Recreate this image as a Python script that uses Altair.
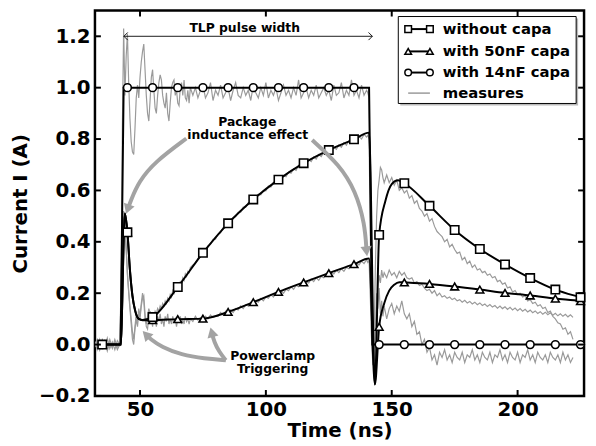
import altair as alt
import pandas as pd

# ---------------- axes ----------------
X_DOMAIN = [32.1, 226.4]
Y_DOMAIN = [-0.2, 1.3]
X_TICKS = [50, 100, 150, 200]
Y_TICKS = [-0.2, 0.0, 0.2, 0.4, 0.6, 0.8, 1.0, 1.2]

# ---------------- simulation curves (black) ----------------
sim_nocap_t = [35, 42.3, 44, 45, 46, 47, 48, 49.5, 51, 55, 65, 75, 85, 95, 105, 115, 125, 135, 141,
               143.3, 145, 147.5, 150, 152.5, 155, 165, 175, 185, 195, 205, 215, 225, 226.4]
sim_nocap_v = [0, 0, 0.51, 0.437, 0.29, 0.19, 0.135, 0.1, 0.096, 0.107, 0.224, 0.357, 0.472, 0.565,
               0.642, 0.706, 0.757, 0.799, 0.825, -0.155, 0.427, 0.56, 0.625, 0.64, 0.628, 0.54, 0.446,
               0.372, 0.312, 0.259, 0.214, 0.184, 0.18]

sim_50_t = [35, 42.3, 44, 45, 46, 47, 48, 49.5, 51, 55, 65, 75, 85, 95, 105, 115, 125, 135, 141,
            143.3, 145, 147, 149, 151, 153, 155, 165, 175, 185, 195, 205, 215, 225, 226.4]
sim_50_v = [0, 0, 0.51, 0.437, 0.29, 0.19, 0.135, 0.1, 0.095, 0.095, 0.099, 0.101, 0.127, 0.165,
            0.205, 0.242, 0.278, 0.313, 0.335, -0.155, 0.069, 0.16, 0.21, 0.233, 0.243, 0.242, 0.236,
            0.226, 0.214, 0.201, 0.191, 0.179, 0.169, 0.167]

sim_14_t = [35, 42.3, 43.5, 45, 55, 65, 75, 85, 95, 105, 115, 125, 135, 141, 142.3, 145, 155, 165,
            175, 185, 195, 205, 215, 225, 226.4]
sim_14_v = [0, 0, 1.0, 1.0, 1.0, 1.0, 1.0, 1.0, 1.0, 1.0, 1.0, 1.0, 1.0, 1.0, 0.0, 0.0, 0.0, 0.0,
            0.0, 0.0, 0.0, 0.0, 0.0, 0.0, 0.0]

# marker positions (every 10 ns)
marker_t = [35, 45, 55, 65, 75, 85, 95, 105, 115, 125, 135, 145, 155, 165, 175, 185, 195, 205, 215, 225]
mk_nocap = [0, 0.437, 0.107, 0.224, 0.357, 0.472, 0.565, 0.642, 0.706, 0.757, 0.799,
            0.427, 0.628, 0.54, 0.446, 0.372, 0.312, 0.259, 0.214, 0.184]
mk_50 = [0, 0.437, 0.095, 0.099, 0.101, 0.127, 0.165, 0.205, 0.242, 0.278, 0.313,
         0.069, 0.242, 0.236, 0.226, 0.214, 0.201, 0.191, 0.179, 0.169]
mk_14 = [0, 1.0, 1.0, 1.0, 1.0, 1.0, 1.0, 1.0, 1.0, 1.0, 1.0,
         0, 0, 0, 0, 0, 0, 0, 0, 0]

# ---------------- measures (grey), sampled on a common time grid ----------------
t_g1 = [32, 33, 34, 35, 36, 37, 38, 39, 40, 41]
t_g2 = [42 + 0.5 * i for i in range(57)]          # 42 .. 70
t_g3 = list(range(71, 141))                      # 71 .. 140
t_g4 = [140.5 + 0.5 * i for i in range(14)]       # 140.5 .. 147
t_g5 = list(range(148, 223))                     # 148 .. 222

m14_g1 = [0.01, -0.02, 0.02, -0.01, 0.015, -0.025, 0.01, -0.015, 0.02, -0.01]
m14_g2 = [0.0, 0.15, 0.85, 1.23, 0.97, 1.12, 1.21, 1.02, 0.88, 0.79,
          0.75, 0.74, 0.84, 0.96, 1.01, 0.96, 1.04, 1.1, 1.14, 1.17,
          1.07, 0.97, 0.9, 0.87, 0.95, 1.04, 1.07, 0.99, 0.92, 0.9,
          0.97, 1.02, 1.05, 1.03, 0.97, 0.94, 0.92, 0.98, 0.9, 0.87,
          0.94, 1.0, 1.02, 1.03, 0.97, 0.99, 0.94, 0.93, 1.0, 1.02,
          0.97, 1.03, 0.96, 0.95, 0.99, 0.94, 1.0]
m14_g3 = [0.97, 1.0, 0.96, 0.99, 1.01, 0.96, 0.98, 1.02, 0.95, 0.99,
          0.97, 1.01, 0.96, 0.98, 1.0, 0.95, 0.99, 1.02, 0.97, 0.96,
          1.0, 0.97, 0.99, 0.95, 1.01, 0.98, 0.96, 1.0, 0.97, 1.02,
          0.96, 0.99, 0.97, 1.0, 0.95, 0.98, 1.01, 0.97, 0.99, 0.96,
          1.0, 0.97, 1.03, 0.96, 0.98, 1.0, 0.96, 0.99, 0.97, 1.01,
          0.96, 0.98, 1.0, 0.97, 0.99, 0.95, 1.01, 0.97, 0.98, 1.02,
          0.96, 0.99, 0.97, 1.03, 0.97, 0.99, 0.96, 1.01, 0.97, 0.99]
m14_g4 = [0.98, 0.96, 0.55, 0.12, -0.02, -0.08, 0.04, 0.2, 0.14, 0.22, 0.12, 0.17, 0.11, 0.15]
m14_g5 = [0.1, 0.14, 0.16, 0.12, 0.15, 0.13, 0.17, 0.12, 0.1, 0.12,
          0.07, 0.09, 0.04, 0.05, 0.0, 0.02, -0.03, -0.01, -0.06, -0.04,
          -0.08, -0.03, -0.05, -0.02, -0.06, -0.04, -0.07, -0.03, -0.05, -0.06,
          -0.03, -0.07, -0.04, -0.05, -0.02, -0.06, -0.04, -0.07, -0.03, -0.05,
          -0.06, -0.03, -0.07, -0.04, -0.05, -0.02, -0.06, -0.04, -0.07, -0.03,
          -0.05, -0.06, -0.03, -0.07, -0.04, -0.05, -0.02, -0.06, -0.04, -0.07,
          -0.03, -0.05, -0.06, -0.04, -0.07, -0.03, -0.05, -0.06, -0.04, -0.07,
          -0.03, -0.06, -0.04, -0.07, -0.05]

m50_g1 = [0.0, 0.02, -0.02, 0.01, -0.01, 0.025, -0.015, 0.01, -0.02, 0.015]
m50_g2 = [0.0, 0.22, 0.46, 0.5, 0.47, 0.38, 0.28, 0.2, 0.14, 0.08,
          0.02, 0.0, 0.06, 0.1, 0.07, 0.12, 0.1, 0.15, 0.18, 0.19,
          0.12, 0.07, 0.06, 0.11, 0.13, 0.1, 0.07, 0.12, 0.1, 0.07,
          0.11, 0.09, 0.12, 0.08, 0.1, 0.07, 0.11, 0.09, 0.12, 0.08,
          0.1, 0.08, 0.11, 0.09, 0.1, 0.07, 0.1, 0.09, 0.11, 0.08,
          0.1, 0.08, 0.11, 0.09, 0.1, 0.08, 0.1]
m50_g3 = [0.09, 0.11, 0.095, 0.105, 0.09, 0.11, 0.1, 0.115, 0.105, 0.11,
          0.11, 0.125, 0.115, 0.13, 0.12, 0.135, 0.125, 0.14, 0.135, 0.15,
          0.14, 0.155, 0.15, 0.165, 0.155, 0.17, 0.165, 0.18, 0.17, 0.185,
          0.18, 0.195, 0.185, 0.2, 0.195, 0.21, 0.2, 0.215, 0.21, 0.225,
          0.215, 0.23, 0.225, 0.24, 0.23, 0.245, 0.24, 0.255, 0.245, 0.26,
          0.25, 0.265, 0.26, 0.275, 0.265, 0.28, 0.275, 0.29, 0.28, 0.295,
          0.285, 0.3, 0.295, 0.31, 0.3, 0.315, 0.31, 0.325, 0.315, 0.33]
m50_g4 = [0.32, 0.33, 0.18, 0.02, -0.06, -0.03, 0.06, 0.15, 0.22, 0.27, 0.24, 0.29, 0.26, 0.28]
m50_g5 = [0.26, 0.29, 0.27, 0.28, 0.26, 0.285, 0.27, 0.28, 0.26, 0.255,
          0.26, 0.24, 0.245, 0.23, 0.235, 0.22, 0.21, 0.215, 0.2, 0.21,
          0.19, 0.2, 0.185, 0.19, 0.18, 0.185, 0.175, 0.18, 0.17, 0.175,
          0.165, 0.172, 0.162, 0.168, 0.158, 0.165, 0.155, 0.162, 0.152, 0.158,
          0.148, 0.156, 0.146, 0.152, 0.142, 0.15, 0.14, 0.147, 0.137, 0.145,
          0.135, 0.142, 0.132, 0.14, 0.13, 0.137, 0.127, 0.134, 0.124, 0.131,
          0.121, 0.128, 0.118, 0.126, 0.116, 0.124, 0.114, 0.122, 0.112, 0.12,
          0.11, 0.118, 0.108, 0.116, 0.106]

m0_g1 = [-0.01, 0.015, -0.02, 0.02, 0.0, -0.015, 0.02, -0.01, 0.01, -0.02]
m0_g2 = [0.0, 0.26, 0.48, 0.52, 0.46, 0.37, 0.27, 0.21, 0.15, 0.1,
         0.05, 0.02, 0.07, 0.12, 0.09, 0.14, 0.11, 0.16, 0.2, 0.17,
         0.1, 0.08, 0.11, 0.14, 0.12, 0.1, 0.12, 0.11, 0.13, 0.12,
         0.14, 0.13, 0.15, 0.14, 0.16, 0.15, 0.17, 0.16, 0.18, 0.17,
         0.195, 0.185, 0.21, 0.2, 0.22, 0.21, 0.235, 0.225, 0.245, 0.24,
         0.26, 0.25, 0.275, 0.265, 0.285, 0.28, 0.3]
m0_g3 = [0.31, 0.315, 0.335, 0.34, 0.36, 0.365, 0.385, 0.39, 0.41, 0.41,
         0.43, 0.435, 0.455, 0.455, 0.475, 0.478, 0.495, 0.498, 0.515, 0.515,
         0.535, 0.535, 0.552, 0.55, 0.57, 0.568, 0.585, 0.583, 0.6, 0.598,
         0.617, 0.613, 0.632, 0.628, 0.645, 0.64, 0.658, 0.653, 0.672, 0.667,
         0.684, 0.678, 0.698, 0.69, 0.709, 0.702, 0.72, 0.712, 0.73, 0.722,
         0.74, 0.732, 0.75, 0.742, 0.76, 0.75, 0.769, 0.76, 0.777, 0.768,
         0.786, 0.776, 0.794, 0.785, 0.802, 0.792, 0.811, 0.8, 0.818, 0.808]
m0_g4 = [0.815, 0.8, 0.42, 0.02, -0.08, 0.04, 0.3, 0.5, 0.6, 0.64, 0.69, 0.68, 0.65, 0.63]
m0_g5 = [0.66, 0.63, 0.65, 0.62, 0.64, 0.6, 0.61, 0.59, 0.6, 0.57,
         0.58, 0.55, 0.56, 0.53, 0.52, 0.5, 0.51, 0.48, 0.49, 0.46,
         0.44, 0.43, 0.42, 0.4, 0.41, 0.38, 0.39, 0.37, 0.355, 0.36,
         0.33, 0.34, 0.315, 0.325, 0.3, 0.31, 0.29, 0.295, 0.28, 0.285,
         0.27, 0.275, 0.26, 0.265, 0.245, 0.25, 0.235, 0.24, 0.22, 0.225,
         0.205, 0.21, 0.195, 0.2, 0.185, 0.19, 0.17, 0.175, 0.16, 0.165,
         0.15, 0.155, 0.14, 0.145, 0.125, 0.13, 0.11, 0.1, 0.085, 0.08,
         0.06, 0.065, 0.04, 0.05, 0.02]

# ---------------- annotations (data coordinates) ----------------
ann_text = ["TLP pulse width", "Package", "inductance effect", "Powerclamp", "Triggering"]
ann_t = [91.6, 92.6, 92.8, 102.7, 102.7]
ann_v = [1.234, 0.866, 0.815, -0.045, -0.096]

tlp_arrow_t = [43.6, 142.3]
tlp_arrow_v = [1.2, 1.2]

arrow1_t = [68.4, 56.0, 49.5, 46.2, 45.1]
arrow1_v = [0.802, 0.712, 0.635, 0.557, 0.527]
arrow2_t = [118.4, 129.2, 135.7, 139.3, 140.0]
arrow2_v = [0.796, 0.70, 0.597, 0.47, 0.363]
arrow3_t = [84.1, 75.6, 66.4, 58.6, 54.0, 52.4]
arrow3_v = [-0.061, -0.055, -0.04, -0.01, 0.022, 0.039]
arrow4_t = [84.1, 81.5, 79.5, 78.5]
arrow4_v = [-0.061, -0.029, 0.009, 0.048]
head_t = [45.1, 140.0, 52.4, 78.5]
head_v = [0.527, 0.363, 0.039, 0.048]
head_shape = ["triangle-down", "triangle-down", "triangle-up", "triangle-up"]
head_angle = [19, 354, 316, 345]

legend_labels = ["without capa", "with 50nF capa", "with 14nF capa", "measures"]

# ---------------- helpers ----------------
W, H = 495, 390
FONT = "DejaVu Sans"
GREY = "#9a9a9a"
ARROW_GREY = "#a3a3a3"

x_axis = alt.Axis(values=X_TICKS, ticks=False, domain=False, grid=False, format="d",
                  labelFont=FONT, labelFontWeight="bold", labelFontSize=20, labelColor="black",
                  labelPadding=4, title="Time (ns)", titleFont=FONT, titleFontWeight="bold",
                  titleFontSize=20, titleColor="black", titlePadding=1)
y_axis = alt.Axis(values=Y_TICKS, ticks=False, domain=False, grid=False, format=".1f",
                  labelFont=FONT, labelFontWeight="bold", labelFontSize=20, labelColor="black",
                  labelPadding=5, title="Current I (A)", titleFont=FONT, titleFontWeight="bold",
                  titleFontSize=20, titleColor="black", titlePadding=8)
xs = alt.Scale(domain=X_DOMAIN, nice=False, zero=False)
ys = alt.Scale(domain=Y_DOMAIN, nice=False, zero=False)


def X(f="t"):
    return alt.X(f"{f}:Q", scale=xs, axis=x_axis)


def Y(f="v"):
    return alt.Y(f"{f}:Q", scale=ys, axis=y_axis)


def df(t, v):
    return pd.DataFrame({"t": t, "v": v, "i": list(range(len(t)))})


layers = []

# measures
for g1, g2, g3, g4, g5 in [(m0_g1, m0_g2, m0_g3, m0_g4, m0_g5),
                           (m50_g1, m50_g2, m50_g3, m50_g4, m50_g5),
                           (m14_g1, m14_g2, m14_g3, m14_g4, m14_g5)]:
    tt = t_g1 + t_g2 + t_g3 + t_g4 + t_g5
    vv = g1 + g2 + g3 + g4 + g5
    layers.append(alt.Chart(df(tt, vv)).mark_line(color=GREY, strokeWidth=1.2, clip=True)
                  .encode(x=X(), y=Y(), order="i:Q"))

# simulations
for tt, vv, interp in [(sim_14_t, sim_14_v, "linear"), (sim_50_t, sim_50_v, "monotone"),
                       (sim_nocap_t, sim_nocap_v, "monotone")]:
    layers.append(alt.Chart(df(tt, vv)).mark_line(color="black", strokeWidth=2, interpolate=interp, clip=True)
                  .encode(x=X(), y=Y(), order="i:Q"))

# markers
for vals, shape, sz in [(mk_14, "circle", 62), (mk_50, "triangle-up", 62), (mk_nocap, "square", 72)]:
    layers.append(alt.Chart(df(marker_t, vals)).mark_point(shape=shape, size=sz, filled=True, fill="white",
                                                           stroke="black", strokeWidth=1.6, opacity=1)
                  .encode(x=X(), y=Y()))

# grey curved arrows
for tt, vv in [(arrow1_t, arrow1_v), (arrow2_t, arrow2_v), (arrow3_t, arrow3_v), (arrow4_t, arrow4_v)]:
    layers.append(alt.Chart(df(tt, vv)).mark_line(color=ARROW_GREY, strokeWidth=4, interpolate="basis")
                  .encode(x=X(), y=Y(), order="i:Q"))
heads = pd.DataFrame({"t": head_t, "v": head_v, "shape": head_shape, "angle": head_angle})
for k in range(len(head_t)):
    layers.append(alt.Chart(heads.iloc[[k]]).mark_point(shape=head_shape[k], angle=head_angle[k], size=130,
                                                        filled=True, color=ARROW_GREY, opacity=1)
                  .encode(x=X(), y=Y()))

# TLP pulse width arrow
layers.append(alt.Chart(df(tlp_arrow_t, tlp_arrow_v)).mark_line(color="black", strokeWidth=0.9)
              .encode(x=X(), y=Y()))
layers.append(alt.Chart(df(tlp_arrow_t[:1], tlp_arrow_v[:1])).mark_point(shape="M1,-1L0,0L1,1", size=60,
              filled=False, stroke="black", strokeWidth=0.9, opacity=1).encode(x=X(), y=Y()))
layers.append(alt.Chart(df(tlp_arrow_t[1:], tlp_arrow_v[1:])).mark_point(shape="M-1,-1L0,0L-1,1", size=60,
              filled=False, stroke="black", strokeWidth=0.9, opacity=1).encode(x=X(), y=Y()))

# text annotations
ann = pd.DataFrame({"t": ann_t, "v": ann_v, "txt": ann_text})
layers.append(alt.Chart(ann.iloc[[0]]).mark_text(font=FONT, fontWeight="bold", fontSize=12.5, color="black")
              .encode(x=X(), y=Y(), text="txt:N"))
layers.append(alt.Chart(ann.iloc[1:]).mark_text(font=FONT, fontWeight="bold", fontSize=12.5, color="black")
              .encode(x=X(), y=Y(), text="txt:N"))

# inward ticks on all four sides
xt = pd.DataFrame({"t": X_TICKS})
yt = pd.DataFrame({"v": Y_TICKS})
TL = 6
layers.append(alt.Chart(xt).mark_rule(color="black", strokeWidth=2).encode(x=X(), y=alt.value(H), y2=alt.value(H - TL)))
layers.append(alt.Chart(xt).mark_rule(color="black", strokeWidth=2).encode(x=X(), y=alt.value(0), y2=alt.value(TL)))
layers.append(alt.Chart(yt).mark_rule(color="black", strokeWidth=2).encode(y=Y(), x=alt.value(0), x2=alt.value(TL)))
layers.append(alt.Chart(yt).mark_rule(color="black", strokeWidth=2).encode(y=Y(), x=alt.value(W), x2=alt.value(W - TL)))

# legend (drawn in pixel space of the plot area)
one = pd.DataFrame({"a": [0]})
LX0, LX1, LY0, LY1 = 307, 487, 6, 94
layers.append(alt.Chart(one).mark_rect(color="#8c8c8c", opacity=0.6)
              .encode(x=alt.value(LX0 + 2), x2=alt.value(LX1 + 2), y=alt.value(LY0 + 2), y2=alt.value(LY1 + 2)))
layers.append(alt.Chart(one).mark_rect(fill="white", stroke="black", strokeWidth=1)
              .encode(x=alt.value(LX0), x2=alt.value(LX1), y=alt.value(LY0), y2=alt.value(LY1)))
row_y = [18.7, 41.3, 62.7, 83.5]
row_shape = ["square", "triangle-up", "circle", None]
for k, lab in enumerate(legend_labels):
    yy = row_y[k]
    col = "black" if row_shape[k] else GREY
    layers.append(alt.Chart(one).mark_rule(color=col, strokeWidth=2 if row_shape[k] else 1.5)
                  .encode(x=alt.value(317), x2=alt.value(339), y=alt.value(yy)))
    if row_shape[k]:
        for xx in (317, 339):
            layers.append(alt.Chart(one).mark_point(shape=row_shape[k], size=45, filled=True, fill="white",
                                                    stroke="black", strokeWidth=1.5, opacity=1)
                          .encode(x=alt.value(xx), y=alt.value(yy)))
    layers.append(alt.Chart(one).mark_text(align="left", baseline="middle", font=FONT, fontWeight="bold",
                                           fontSize=15, color="black")
                  .encode(x=alt.value(352), y=alt.value(yy), text=alt.value(lab)))

chart = alt.layer(*layers).properties(
    width=W, height=H,
    autosize=alt.AutoSizeParams(type="none"),
    padding={"left": 88, "top": 0, "right": 4, "bottom": 46},
    background="white",
).configure_view(stroke="black", strokeWidth=2.5)

chart.save("out.html", embed_options={"renderer": "svg", "actions": False})
